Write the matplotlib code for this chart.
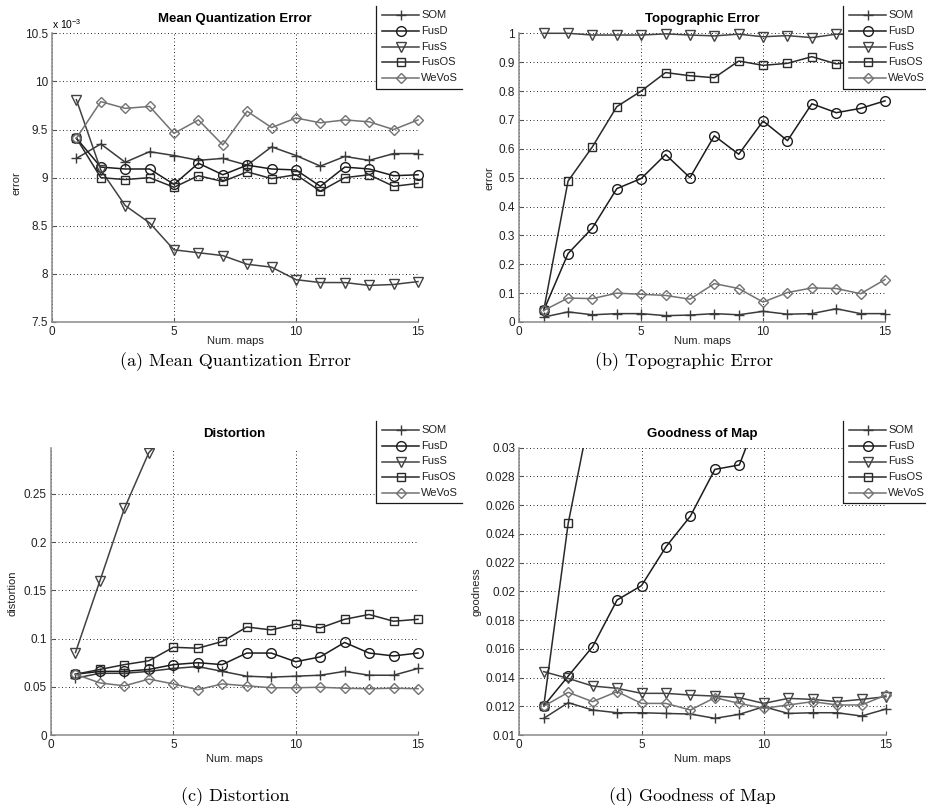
import matplotlib
matplotlib.use("Agg")
import matplotlib.pyplot as plt
import matplotlib.ticker as mticker
from matplotlib.lines import Line2D
from matplotlib.patches import Rectangle
from matplotlib.transforms import Affine2D

W, H = 926, 808

plt.rcParams["font.family"] = ["Liberation Sans", "DejaVu Sans"]
plt.rcParams["mathtext.default"] = "regular"
TICK_FONT = ["Liberation Sans Narrow", "Liberation Sans"]

NUM_MAPS = list(range(1, 16))
METHODS = ["SOM", "FusD", "FusS", "FusOS", "WeVoS"]

# mean quantization error, in units of 1e-3
MQE_SOM = [9.20, 9.35, 9.16, 9.27, 9.23, 9.18, 9.20, 9.13, 9.32, 9.23, 9.12, 9.22, 9.18, 9.25, 9.25]
MQE_FUSD = [9.41, 9.11, 9.09, 9.09, 8.93, 9.15, 9.03, 9.13, 9.09, 9.08, 8.91, 9.11, 9.09, 9.02, 9.03]
MQE_FUSS = [9.81, 9.08, 8.71, 8.53, 8.25, 8.22, 8.19, 8.10, 8.07, 7.94, 7.91, 7.91, 7.88, 7.89, 7.92]
MQE_FUSOS = [9.41, 9.00, 8.98, 9.00, 8.90, 9.02, 8.96, 9.06, 8.99, 9.03, 8.86, 9.00, 9.03, 8.91, 8.94]
MQE_WEVOS = [9.41, 9.79, 9.72, 9.74, 9.46, 9.60, 9.34, 9.69, 9.52, 9.62, 9.57, 9.60, 9.58, 9.50, 9.60]

# topographic error
TE_SOM = [0.017, 0.035, 0.025, 0.029, 0.029, 0.022, 0.024, 0.029, 0.025, 0.037, 0.027, 0.029, 0.046, 0.029, 0.029]
TE_FUSD = [0.040, 0.237, 0.326, 0.462, 0.497, 0.580, 0.500, 0.645, 0.581, 0.696, 0.628, 0.756, 0.725, 0.740, 0.766]
TE_FUSS = [1.000, 1.000, 0.994, 0.994, 0.994, 0.998, 0.994, 0.991, 0.997, 0.988, 0.992, 0.985, 0.997, 0.995, 0.997]
TE_FUSOS = [0.040, 0.488, 0.607, 0.746, 0.800, 0.864, 0.853, 0.846, 0.904, 0.889, 0.896, 0.919, 0.894, 0.905, 0.910]
TE_WEVOS = [0.040, 0.083, 0.081, 0.100, 0.096, 0.092, 0.079, 0.133, 0.116, 0.069, 0.102, 0.118, 0.116, 0.098, 0.147]

# distortion
DIST_SOM = [0.059, 0.064, 0.064, 0.066, 0.069, 0.071, 0.066, 0.061, 0.060, 0.061, 0.062, 0.066, 0.062, 0.062, 0.069]
DIST_FUSD = [0.063, 0.066, 0.066, 0.068, 0.073, 0.075, 0.073, 0.085, 0.085, 0.076, 0.081, 0.096, 0.085, 0.082, 0.085]
DIST_FUSS = [0.0855, 0.160, 0.235, 0.293, 0.320, 0.342, 0.371, 0.388, 0.414, 0.430, 0.452, 0.469, 0.493, 0.507, 0.524]
DIST_FUSOS = [0.063, 0.068, 0.073, 0.077, 0.091, 0.090, 0.097, 0.112, 0.109, 0.115, 0.111, 0.120, 0.125, 0.118, 0.120]
DIST_WEVOS = [0.063, 0.054, 0.051, 0.058, 0.053, 0.047, 0.053, 0.051, 0.049, 0.049, 0.0495, 0.0485, 0.048, 0.0485, 0.048]

# goodness of map
GM_SOM = [0.01116, 0.01225, 0.01174, 0.01155, 0.01155, 0.01150, 0.01146, 0.01116, 0.01144, 0.01197,
          0.01150, 0.01155, 0.01155, 0.01132, 0.01181]
GM_FUSD = [0.01202, 0.01410, 0.01615, 0.01940, 0.02040, 0.02310, 0.02524, 0.02849, 0.02880, 0.03320,
           0.03510, 0.03760, 0.03920, 0.04150, 0.04280]
GM_FUSS = [0.01441, 0.01394, 0.01341, 0.01325, 0.01290, 0.01290, 0.01278, 0.01271, 0.01260, 0.01220,
           0.01255, 0.01248, 0.01232, 0.01248, 0.01267]
GM_FUSOS = [0.01202, 0.02473, 0.03330, 0.03920, 0.04360, 0.04710, 0.05020, 0.05280, 0.05510, 0.05690,
            0.05870, 0.06010, 0.06160, 0.06270, 0.06390]
GM_WEVOS = [0.01200, 0.01297, 0.01232, 0.01302, 0.01220, 0.01220, 0.01174, 0.01260, 0.01220, 0.01186,
            0.01209, 0.01232, 0.01209, 0.01209, 0.01278]

STYLE = {
    "SOM": dict(color="#3a3a3a", marker="+", markersize=7),
    "FusD": dict(color="#1c1c1c", marker="o", markersize=7),
    "FusS": dict(color="#424242", marker="v", markersize=7),
    "FusOS": dict(color="#2a2a2a", marker="s", markersize=6.3),
    "WeVoS": dict(color="#727272", marker="D", markersize=5),
}

fig = plt.figure(figsize=(W / 100, H / 100), dpi=100)
# pixel coordinates, origin at the top-left corner
px = Affine2D().scale(1 / W, -1 / H).translate(0, 1) + fig.transFigure


def add_panel(box, title, ylabel, series, ylim, yticks, fmt, ylabel_xy, xlabel_y, offset=None):
    left, top, right, bottom = box
    ax = fig.add_axes([left / W, 1 - bottom / H, (right - left) / W, (bottom - top) / H])
    for name, values in zip(METHODS, series):
        st = STYLE[name]
        clip = max(values) > ylim[1]
        ax.plot(NUM_MAPS, values, color=st["color"], lw=1.1, marker=st["marker"],
                markersize=st["markersize"], markerfacecolor="none",
                markeredgecolor=st["color"], markeredgewidth=1.0, clip_on=clip)
    ax.set_xlim(0, 15)
    ax.set_ylim(*ylim)
    ax.set_xticks([0, 5, 10, 15])
    ax.set_yticks(yticks)
    ax.yaxis.set_major_formatter(mticker.FuncFormatter(fmt))
    ax.grid(True, color="#2a2a2a", linestyle=(0, (1, 2.6)), linewidth=0.7)
    ax.spines[["top", "right"]].set_visible(False)
    for side in ("left", "bottom"):
        ax.spines[side].set_color("#8a8a8a")
        ax.spines[side].set_linewidth(1.1)
    ax.tick_params(direction="in", length=3, width=0.8, color="#555555",
                   labelsize=8.5, labelcolor="#222222", pad=3)
    for lbl in ax.get_xticklabels() + ax.get_yticklabels():
        lbl.set_family(TICK_FONT)
    cx = (left + right) / 2
    fig.text(cx, top - 14, title, transform=px, ha="center", va="center",
             fontsize=9.5, fontweight="bold")
    fig.text(ylabel_xy[0], ylabel_xy[1], ylabel, transform=px, ha="center", va="center",
             rotation=90, fontsize=8, color="#222222")
    fig.text(cx, xlabel_y, "Num. maps", transform=px, ha="center", va="center",
             fontsize=8, color="#222222")
    if offset:
        fig.text(left, top - 9, offset, transform=px, ha="left", va="center", fontsize=7.5)
    return ax


def draw_legend(left, top, bottom, right):
    fig.add_artist(Rectangle((left, top), right - left, bottom - top, transform=px,
                             facecolor="white", edgecolor="none", zorder=3))
    fig.add_artist(Line2D([left, left, right], [top, bottom, bottom], transform=px,
                          color="#1a1a1a", lw=0.9, zorder=4))
    for i, name in enumerate(METHODS):
        st = STYLE[name]
        y = top + 9 + 15.75 * i
        fig.add_artist(Line2D([left + 6, left + 24.5, left + 43], [y, y, y], transform=px,
                              color=st["color"], lw=1.1, marker=st["marker"],
                              markersize=st["markersize"], markerfacecolor="none",
                              markeredgewidth=1.0, markevery=[1], zorder=4))
        fig.text(left + 45, y, name, transform=px, ha="left", va="center",
                 fontsize=8, color="#222222", zorder=4)


add_panel((52, 33.3, 418, 322), "Mean Quantization Error", "error",
          [MQE_SOM, MQE_FUSD, MQE_FUSS, MQE_FUSOS, MQE_WEVOS],
          (7.5, 10.5), [7.5, 8, 8.5, 9, 9.5, 10, 10.5], lambda v, _: f"{v:g}",
          (16, 183), 341, offset=r"x 10$^{-3}$")
add_panel((519.3, 33.3, 885, 322), "Topographic Error", "error",
          [TE_SOM, TE_FUSD, TE_FUSS, TE_FUSOS, TE_WEVOS],
          (0, 1), [i / 10 for i in range(11)], lambda v, _: f"{v:g}",
          (489.5, 178), 341)
add_panel((51, 447.7, 418, 735), "Distortion", "distortion",
          [DIST_SOM, DIST_FUSD, DIST_FUSS, DIST_FUSOS, DIST_WEVOS],
          (0, 0.298), [0, 0.05, 0.1, 0.15, 0.2, 0.25], lambda v, _: f"{v:.3g}",
          (13, 593), 759)
add_panel((519.3, 447.7, 886, 735), "Goodness of Map", "goodness",
          [GM_SOM, GM_FUSD, GM_FUSS, GM_FUSOS, GM_WEVOS],
          (0.01, 0.03), [0.01 + 0.002 * i for i in range(11)], lambda v, _: f"{v:.3g}",
          (476.5, 592), 759)

draw_legend(376, 6, 88.5, 462)
draw_legend(843, 6, 88.5, 926)
draw_legend(376, 421, 503, 462)
draw_legend(843, 421, 503, 926)

captions = [(235, 362, "(a) Mean Quantization Error"), (684, 362, "(b) Topographic Error"),
            (235, 797, "(c) Distortion"), (692, 797, "(d) Goodness of Map")]
for x, y, text in captions:
    fig.text(x, y, text, transform=px, ha="center", va="center", fontsize=13,
             family=["cmr10", "DejaVu Serif"])

fig.savefig("out.png", dpi=100)
